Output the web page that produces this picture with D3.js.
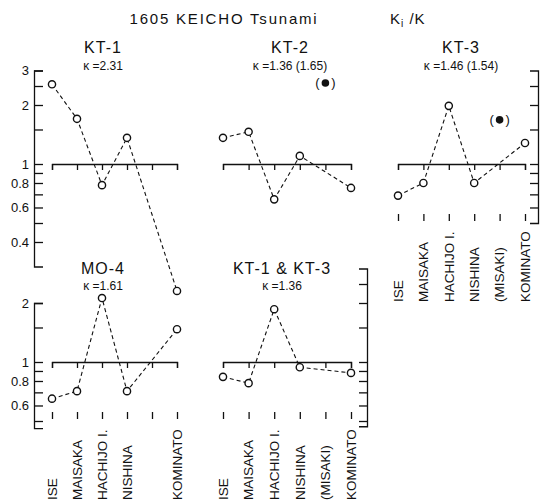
<!DOCTYPE html>
<html><head><meta charset="utf-8">
<script src="https://cdn.jsdelivr.net/npm/d3@7/dist/d3.min.js"></script>
<style>
body{margin:0;background:#fff;}
text{font-family:"Liberation Sans",Arial,sans-serif;fill:#111;}
</style></head>
<body><svg id="c" width="540" height="504"></svg>
<script>
// ---- data ----
const categories = ["ISE","MAISAKA","HACHIJO I.","NISHINA","(MISAKI)","KOMINATO"];
const kt1  = [2.55, 1.70, 0.78, 1.36, null, 0.225];
const kt2  = [1.36, 1.46, 0.66, 1.10, null, 0.755];
const kt3  = [0.69, 0.80, 1.98, 0.80, null, 1.28];
const mo4  = [0.65, 0.71, 2.12, 0.71, null, 1.47];
const kt13 = [0.84, 0.78, 1.86, 0.94, null, 0.88];
const kt2Misaki = 2.59;
const kt3Misaki = 1.68;
const panelNames = ["KT-1","KT-2","KT-3","MO-4","KT-1 & KT-3"];
const kappaLabels = ["κ =2.31","κ =1.36 (1.65)","κ =1.46 (1.54)","κ =1.61","κ =1.36"];
const yTicksMain = [3,2.5,2,1.5,1,0.9,0.8,0.7,0.6,0.5,0.4];
const yTicksLabeled = [3,2,1,0.8,0.6,0.4];
const mainTitle = "1605 KEICHO Tsunami";

// ---- layout ----
const svg = d3.select("#c");
const DEC = 196; // px per decade
function yLog(y1, lo, hi){
  return d3.scaleLog().domain([lo,hi]).range([y1 - Math.log10(lo)*DEC, y1 - Math.log10(hi)*DEC]);
}
const panels = [
  {vals:kt1, mis:null, x0:52, x1:177, y1:164, tx:103, ty:53, ky:70},
  {vals:kt2, mis:kt2Misaki, x0:223, x1:351, y1:164, tx:290, ty:53, ky:70},
  {vals:kt3, mis:kt3Misaki, x0:398, x1:525, y1:164, tx:461, ty:53, ky:70},
  {vals:mo4, mis:null, x0:52, x1:177, y1:362, tx:103, ty:274, ky:290},
  {vals:kt13, mis:null, x0:223, x1:351, y1:362, tx:282, ty:274, ky:290}
];

svg.append("text").attr("x",224).attr("y",24).attr("text-anchor","middle")
  .style("font-size","15px").style("letter-spacing","1.8px").text(mainTitle);
const kk = svg.append("text").attr("x",390).attr("y",24).style("font-size","15px").style("letter-spacing","1px");
kk.append("tspan").text("K");
kk.append("tspan").attr("dy",3).style("font-size","10px").text("i");
kk.append("tspan").attr("dy",-3).text(" /K");

panels.forEach((p,i)=>{
  const x = d3.scalePoint().domain(categories).range([p.x0,p.x1]);
  const y = yLog(p.y1, 0.2, 3);
  const g = svg.append("g");
  g.append("text").attr("x",p.tx).attr("y",p.ty).attr("text-anchor","middle")
    .style("font-size","16px").style("letter-spacing","1px").text(panelNames[i]);
  g.append("text").attr("x",p.tx).attr("y",p.ky).attr("text-anchor","middle")
    .style("font-size","12px").text(kappaLabels[i]);
  const ax = g.append("g").attr("transform",`translate(0,${y(1)})`)
    .call(d3.axisBottom(x).tickSize(6).tickSizeOuter(6).tickFormat(""));
  ax.selectAll("path,line").attr("stroke","#111").attr("stroke-width",1.3);
  const pts = categories.map((c,j)=>({c, v:p.vals[j]})).filter(d=>d.v!=null);
  g.append("path").datum(pts)
    .attr("d", d3.line().x(d=>x(d.c)).y(d=>y(d.v)))
    .attr("fill","none").attr("stroke","#111").attr("stroke-width",1.1).attr("stroke-dasharray","4,3");
  g.selectAll("circle.o").data(pts).join("circle").attr("class","o")
    .attr("cx",d=>x(d.c)).attr("cy",d=>y(d.v)).attr("r",3.6)
    .attr("fill","#fff").attr("stroke","#111").attr("stroke-width",1.4);
  if(p.mis!=null){
    const mx = x("(MISAKI)"), my = y(p.mis);
    g.append("circle").attr("cx",mx).attr("cy",my).attr("r",3.8).attr("fill","#111");
    g.append("text").attr("x",mx-8).attr("y",my+4.5).attr("text-anchor","middle").style("font-size","13px").text("(");
    g.append("text").attr("x",mx+8).attr("y",my+4.5).attr("text-anchor","middle").style("font-size","13px").text(")");
  }
  p.xs = x;
});

function leftAxis(y1, lo, hi, ticks){
  const y = yLog(y1, lo, hi);
  const a = svg.append("g").attr("transform","translate(34,0)")
    .call(d3.axisLeft(y).tickValues(ticks).tickSizeInner(-9).tickSizeOuter(-9).tickPadding(5)
      .tickFormat(d=> yTicksLabeled.includes(d) ? String(d) : ""));
  a.selectAll("path,line").attr("stroke","#111").attr("stroke-width",1.3);
  a.selectAll("text").style("font-size","13px").style("font-family","Liberation Sans, Arial, sans-serif").attr("fill","#111");
}
leftAxis(164, 0.3, 3, yTicksMain);
leftAxis(362, 0.46, 2, yTicksMain.filter(v=>v<=2 && v>=0.5));

function rightAxis(xp, y1, lo, hi){
  const y = yLog(y1, lo, hi);
  const a = svg.append("g").attr("transform",`translate(${xp},0)`)
    .call(d3.axisRight(y).tickValues(yTicksMain.filter(v=>v>lo && v<hi)).tickSizeInner(-8).tickSizeOuter(-8).tickFormat(""));
  a.selectAll("path,line").attr("stroke","#111").attr("stroke-width",1.3);
}
rightAxis(538, 164, 0.5, 3);
rightAxis(367, 362, 0.47, 3);

function catLabels(x, markY, baseY, cats){
  const m = svg.append("g").attr("transform",`translate(0,${markY})`)
    .call(d3.axisBottom(x).tickSize(7).tickFormat(""));
  m.select(".domain").remove();
  m.selectAll("line").attr("stroke","#111").attr("stroke-width",1.3);
  svg.append("g").selectAll("text").data(cats).join("text")
    .attr("transform",d=>`translate(${x(d)},${baseY}) rotate(-90)`)
    .attr("dy","0.36em").attr("text-anchor","start")
    .style("font-size","13.5px").text(d=>d);
}
catLabels(panels[2].xs, 214, 302, categories);
catLabels(panels[3].xs, 412, 500, categories.filter(c=>c!=="(MISAKI)"));
catLabels(panels[4].xs, 412, 500, categories);
</script></body></html>
